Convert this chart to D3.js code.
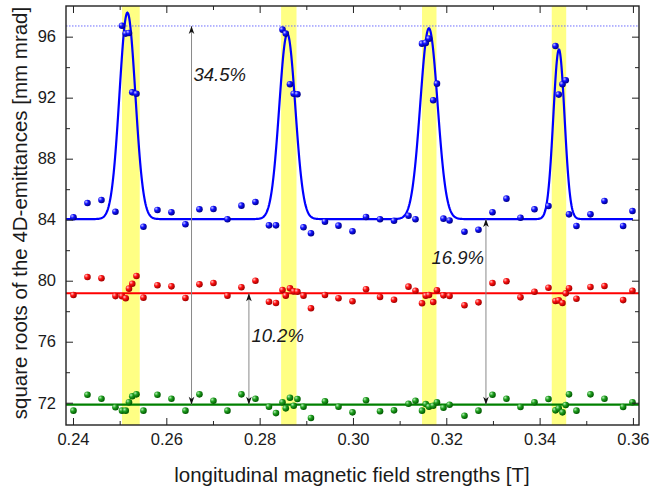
<!DOCTYPE html>
<html>
<head>
<meta charset="utf-8">
<script src="https://cdn.jsdelivr.net/npm/d3@7"></script>
<style>
  html, body { margin: 0; padding: 0; background: #ffffff; }
  svg { display: block; }
  text { font-family: "Liberation Sans", Arial, sans-serif; fill: #1a1a1a; }
</style>
</head>
<body>
<svg id="chart" width="652" height="494"></svg>
<script>
// ---------------- data ----------------
const fieldStrengths = [0.2401,0.2431,0.2461,0.2491,0.2505,0.2513,0.2520,0.2527,0.2536,0.2551,
  0.2581,0.2611,0.2641,0.2671,0.2701,0.2731,0.2761,0.2791,0.2820,0.2835,
  0.2849,0.2856,0.2865,0.2873,0.2881,0.2894,0.2910,0.2940,0.2969,0.2999,
  0.3028,0.3058,0.3088,0.3119,0.3134,0.3148,0.3156,0.3163,0.3172,0.3180,
  0.3194,0.3207,0.3239,0.3269,0.3299,0.3329,0.3359,0.3389,0.3419,0.3434,
  0.3441,0.3449,0.3456,0.3463,0.3479,0.3509,0.3539,0.3579,0.3599];
const blueValues = [84.16,85.09,85.29,84.52,96.72,96.20,96.24,92.35,92.26,83.54,
  84.64,84.49,83.70,84.68,84.70,84.03,84.92,85.16,83.63,83.63,
  96.46,96.20,92.88,92.26,92.22,83.50,83.11,83.87,83.61,83.24,
  84.18,84.03,83.93,84.26,84.03,95.54,95.59,95.87,91.83,92.92,
  84.07,83.95,83.21,83.34,84.49,85.38,84.13,84.68,84.90,95.39,
  92.20,92.88,93.14,84.35,83.59,84.35,85.23,83.59,84.57];
const redValues = [79.06,80.24,80.16,78.99,78.98,78.85,79.48,79.80,80.31,78.89,
  79.70,79.63,78.87,79.76,79.85,79.02,79.57,80.00,78.62,78.54,
  79.39,79.02,79.50,79.30,79.28,79.02,78.19,79.06,78.85,78.65,
  79.44,78.93,78.75,79.61,79.34,78.52,79.02,79.06,78.60,79.37,
  79.04,79.00,78.39,78.58,79.85,79.96,78.91,79.28,79.54,78.67,
  78.71,78.54,79.17,79.50,78.82,79.59,79.65,78.73,79.34];
const greenValues = [71.48,72.52,72.26,71.70,71.48,71.48,72.03,72.42,72.55,71.48,
  72.52,72.26,71.48,72.55,72.13,71.48,72.55,72.26,71.74,71.32,
  72.03,71.63,72.33,71.80,72.24,71.74,71.00,72.09,71.74,71.37,
  72.16,71.44,71.50,71.93,72.13,71.48,71.91,71.74,71.80,72.03,
  71.67,71.87,71.15,71.48,72.52,72.26,71.72,72.03,72.24,71.50,
  71.63,71.37,71.85,72.55,71.48,72.55,72.26,71.72,72.03];

// blue fit: baseline + gaussian peaks
const fitBaseline = 84.04;
const peakCenters = [0.25166, 0.28592, 0.31628, 0.34414];
const peakHeights = [13.53, 12.16, 12.51, 11.12];
const peakSigmas  = [0.00170, 0.00172, 0.00185, 0.00120];

const redLevel = 79.17;
const greenLevel = 71.87;
const peakLevel = 96.70;

// yellow bands (field ranges)
const bandStarts = [0.2505, 0.2846, 0.3148, 0.3426];
const bandEnds   = [0.2543, 0.2879, 0.3179, 0.3457];

// arrows / annotations
const arrowX      = [0.2654, 0.2777, 0.3285];
const arrowTop    = [96.70, 79.17, 84.04];
const arrowBottom = [71.87, 71.87, 71.87];
const arrowLabels = ["34.5%", "10.2%", "16.9%"];

const xMajorTicks = [0.24, 0.26, 0.28, 0.30, 0.32, 0.34, 0.36];
const xTickLabels = ["0.24", "0.26", "0.28", "0.30", "0.32", "0.34", "0.36"];
const xMinorTicks = [0.25, 0.27, 0.29, 0.31, 0.33, 0.35];
const yMajorTicks = [72, 76, 80, 84, 88, 92, 96];
const yMinorTicks = [74, 78, 82, 86, 90, 94];

const xTitle = "longitudinal magnetic field strengths [T]";
const yTitle = "square roots of the 4D-emittances [mm mrad]";

// ---------------- drawing ----------------
const L = 66, R = 639, T = 6, B = 425;
const svg = d3.select("#chart");

const x = d3.scaleLinear().domain([0.2385, 0.3613]).range([L, R]);
const y = d3.scaleLinear().domain([70.54, 98.01]).range([B, T]);

// gradients for spheres
const defs = svg.append("defs");
function ball(id, light, mid, dark) {
  const g = defs.append("radialGradient").attr("id", id)
    .attr("cx", "35%").attr("cy", "35%").attr("r", "65%").attr("fx", "30%").attr("fy", "30%");
  g.append("stop").attr("offset", "0%").attr("stop-color", light);
  g.append("stop").attr("offset", "45%").attr("stop-color", mid);
  g.append("stop").attr("offset", "100%").attr("stop-color", dark);
}
ball("gBlue", "#c8c8ff", "#1010ff", "#00008a");
ball("gRed", "#ffc8c8", "#ff1010", "#a00000");
ball("gGreen", "#b8f0b8", "#20a020", "#005a00");

defs.append("clipPath").attr("id", "plotClip")
  .append("rect").attr("x", L).attr("y", T).attr("width", R - L).attr("height", B - T);

const arrowDefs = [["arrEnd", "auto"], ["arrStart", "auto-start-reverse"]];
arrowDefs.forEach(([id, orient]) => {
  defs.append("marker").attr("id", id)
    .attr("viewBox", "-10 -5 11 10").attr("refX", 0).attr("refY", 0)
    .attr("markerWidth", 11).attr("markerHeight", 10)
    .attr("markerUnits", "userSpaceOnUse").attr("orient", orient)
    .append("path").attr("d", "M0,0 L-8,-2.8 L-5.8,0 L-8,2.8 Z").attr("fill", "#111");
});

const plot = svg.append("g").attr("clip-path", "url(#plotClip)");

// bands
plot.selectAll("rect.band").data(bandStarts).enter().append("rect")
  .attr("class", "band")
  .attr("x", (d) => x(d)).attr("y", T)
  .attr("width", (d, i) => x(bandEnds[i]) - x(d)).attr("height", B - T)
  .attr("fill", "#ffff84");

// dashed peak level
plot.append("line")
  .attr("x1", L).attr("x2", R).attr("y1", y(peakLevel)).attr("y2", y(peakLevel))
  .attr("stroke", "#6c6cff").attr("stroke-width", 1).attr("stroke-dasharray", "1.5,1.5");

// horizontal fit lines
plot.append("line").attr("x1", L).attr("x2", R).attr("y1", y(redLevel)).attr("y2", y(redLevel))
  .attr("stroke", "#ff0000").attr("stroke-width", 2);
plot.append("line").attr("x1", L).attr("x2", R).attr("y1", y(greenLevel)).attr("y2", y(greenLevel))
  .attr("stroke", "#008000").attr("stroke-width", 2.2);

// blue fit curve
const fit = (v) => fitBaseline + d3.sum(peakCenters, (c, i) =>
  peakHeights[i] * Math.exp(-0.5 * Math.pow((v - c) / peakSigmas[i], 2)));
const xs = d3.range(0, 1201).map((i) => 0.2385 + (0.36 - 0.2385) * i / 1200);
plot.append("path").datum(xs)
  .attr("d", d3.line().x((d) => x(d)).y((d) => y(fit(d))))
  .attr("fill", "none").attr("stroke", "#0000ff").attr("stroke-width", 2.2);

// arrows
plot.selectAll("line.arrow").data(arrowX).enter().append("line")
  .attr("class", "arrow")
  .attr("x1", (d) => x(d)).attr("x2", (d) => x(d))
  .attr("y1", (d, i) => y(arrowTop[i])).attr("y2", (d, i) => y(arrowBottom[i]))
  .attr("stroke", "#8a8a8a").attr("stroke-width", 1)
  .attr("marker-start", "url(#arrStart)").attr("marker-end", "url(#arrEnd)");

// points
function drawPoints(vals, grad) {
  plot.append("g").selectAll("circle").data(vals).enter().append("circle")
    .attr("cx", (d, i) => x(fieldStrengths[i])).attr("cy", (d) => y(d))
    .attr("r", 3.3).attr("fill", `url(#${grad})`);
}
drawPoints(greenValues, "gGreen");
drawPoints(redValues, "gRed");
drawPoints(blueValues, "gBlue");

// annotation labels
const labelPos = [
  { dx: 2, yv: 93.1, anchor: "start" },
  { dx: 2.5, yv: 75.98, anchor: "start" },
  { dx: -2, yv: 81.09, anchor: "end" }
];
svg.selectAll("text.ann").data(arrowLabels).enter().append("text")
  .attr("class", "ann")
  .attr("x", (d, i) => x(arrowX[i]) + labelPos[i].dx)
  .attr("y", (d, i) => y(labelPos[i].yv))
  .attr("text-anchor", (d, i) => labelPos[i].anchor)
  .attr("font-size", 18.5).attr("font-style", "italic")
  .text((d) => d);

// axes
function styleAxis(g) {
  g.select(".domain").remove();
  g.selectAll(".tick line").attr("stroke", "#222").attr("stroke-width", 1);
  g.selectAll(".tick text").attr("font-size", 16.5)
    .style("font-family", "'Liberation Sans', Arial, sans-serif").attr("fill", "#1a1a1a");
}
const fmtX = (d) => xTickLabels[xMajorTicks.indexOf(d)];

svg.append("g").attr("transform", `translate(0,${B})`)
  .call(d3.axisBottom(x).tickValues(xMajorTicks).tickFormat(fmtX).tickSize(-7).tickPadding(8))
  .call(styleAxis);
svg.append("g").attr("transform", `translate(0,${B})`)
  .call(d3.axisBottom(x).tickValues(xMinorTicks).tickFormat("").tickSize(-4))
  .call(styleAxis);
svg.append("g").attr("transform", `translate(0,${T})`)
  .call(d3.axisTop(x).tickValues(xMajorTicks).tickFormat("").tickSize(-7))
  .call(styleAxis);
svg.append("g").attr("transform", `translate(0,${T})`)
  .call(d3.axisTop(x).tickValues(xMinorTicks).tickFormat("").tickSize(-4))
  .call(styleAxis);

svg.append("g").attr("transform", `translate(${L},0)`)
  .call(d3.axisLeft(y).tickValues(yMajorTicks).tickFormat(d3.format("d")).tickSize(-7).tickPadding(10))
  .call(styleAxis);
svg.append("g").attr("transform", `translate(${L},0)`)
  .call(d3.axisLeft(y).tickValues(yMinorTicks).tickFormat("").tickSize(-4))
  .call(styleAxis);
svg.append("g").attr("transform", `translate(${R},0)`)
  .call(d3.axisRight(y).tickValues(yMajorTicks).tickFormat("").tickSize(-7))
  .call(styleAxis);
svg.append("g").attr("transform", `translate(${R},0)`)
  .call(d3.axisRight(y).tickValues(yMinorTicks).tickFormat("").tickSize(-4))
  .call(styleAxis);

// frame
svg.append("rect").attr("x", L).attr("y", T).attr("width", R - L).attr("height", B - T)
  .attr("fill", "none").attr("stroke", "#222").attr("stroke-width", 1.4);

// titles
svg.append("text").attr("x", 352).attr("y", 482)
  .attr("text-anchor", "middle").attr("font-size", 20.5).text(xTitle);
svg.append("text").attr("transform", `translate(27,${213}) rotate(-90)`)
  .attr("text-anchor", "middle").attr("font-size", 20.5).text(yTitle);
</script>
</body>
</html>
